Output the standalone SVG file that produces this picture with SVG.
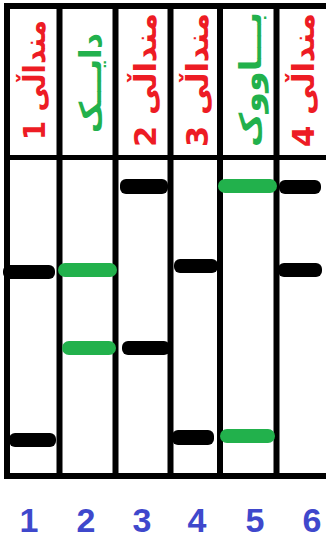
<svg xmlns="http://www.w3.org/2000/svg" width="326" height="539" viewBox="0 0 326 539">
<style>
.grid{stroke:#000;stroke-width:6;fill:none}
.bk{fill:#000}
.gr{fill:#22b14c}
.lbl{font-family:"DejaVu Sans",sans-serif;font-weight:bold;font-size:30px}
.red{fill:#ed1c24}
.grn{fill:#22b14c}
.num{font-family:"Liberation Sans",Arial,sans-serif;font-weight:bold;font-size:34px;fill:#3f48cc;text-anchor:middle}
</style>
<rect x="0" y="0" width="326" height="539" fill="#fff"/>
<g id="grid">
<line class="grid" x1="4" y1="6" x2="326" y2="6"/>
<line class="grid" x1="4" y1="476" x2="326" y2="476"/>
<line class="grid" x1="4" y1="157.5" x2="326" y2="157.5" style="stroke-width:5"/>
<line class="grid" x1="7" y1="3" x2="7" y2="479"/>
<line class="grid" x1="59.5" y1="3" x2="59.5" y2="479"/>
<line class="grid" x1="115.5" y1="3" x2="115.5" y2="479"/>
<line class="grid" x1="170.5" y1="3" x2="170.5" y2="479"/>
<line class="grid" x1="220" y1="3" x2="220" y2="479"/>
<line class="grid" x1="276.5" y1="3" x2="276.5" y2="479"/>
</g>
<g id="lane1">
<text class="lbl red" transform="translate(45,140) rotate(-90)" textLength="120" lengthAdjust="spacingAndGlyphs">1 منداڵی</text>
<rect class="bk" x="3" y="265" width="52" height="14" rx="6"/>
<rect class="bk" x="9" y="433" width="47" height="14" rx="6"/>
</g>
<g id="lane2">
<text class="lbl grn" transform="translate(101,133) rotate(-90)" textLength="100" lengthAdjust="spacingAndGlyphs">دایـــک</text>
<rect class="gr" x="58" y="263" width="59" height="14" rx="7"/>
<rect class="gr" x="62" y="341" width="54" height="14" rx="7"/>
</g>
<g id="lane3">
<text class="lbl red" transform="translate(156,147) rotate(-90)" textLength="134" lengthAdjust="spacingAndGlyphs">2 منداڵی</text>
<rect class="bk" x="120" y="179" width="48" height="15" rx="6"/>
<rect class="bk" x="122" y="341" width="48" height="14" rx="6"/>
</g>
<g id="lane4">
<text class="lbl red" transform="translate(208,147) rotate(-90)" textLength="134" lengthAdjust="spacingAndGlyphs">3 منداڵی</text>
<rect class="bk" x="174" y="259" width="44" height="14" rx="6"/>
<rect class="bk" x="172" y="430" width="42" height="15" rx="6"/>
</g>
<g id="lane5">
<text class="lbl grn" transform="translate(261,147) rotate(-90)" textLength="135" lengthAdjust="spacingAndGlyphs">بـــاووک</text>
<rect class="gr" x="218" y="179" width="59" height="14" rx="7"/>
<rect class="gr" x="220" y="429" width="55" height="14" rx="7"/>
</g>
<g id="lane6">
<text class="lbl red" transform="translate(314,147) rotate(-90)" textLength="134" lengthAdjust="spacingAndGlyphs">4 منداڵی</text>
<rect class="bk" x="279" y="180" width="42" height="14" rx="6"/>
<rect class="bk" x="278" y="263" width="44" height="14" rx="6"/>
</g>
<g id="numbers">
<text class="num" x="29" y="532">1</text>
<text class="num" x="86" y="532">2</text>
<text class="num" x="142" y="532">3</text>
<text class="num" x="197" y="532">4</text>
<text class="num" x="255" y="532">5</text>
<text class="num" x="312" y="532">6</text>
</g>
</svg>
